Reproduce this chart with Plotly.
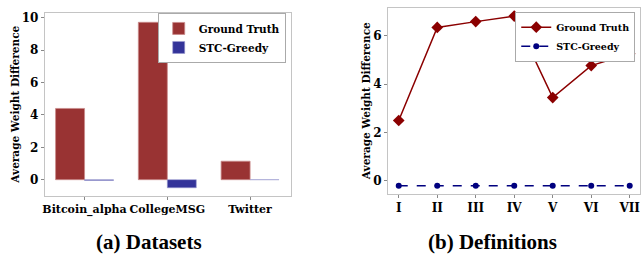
import plotly.graph_objects as go

datasets = ["Bitcoin_alpha", "CollegeMSG", "Twitter"]
gt_datasets = [4.4, 9.72, 1.14]
stc_datasets = [-0.05, -0.5, 0.0]

definitions = ["I", "II", "III", "IV", "V", "VI", "VII"]
gt_defs = [2.5, 6.35, 6.59, 6.82, 3.45, 4.77, 5.26]
stc_defs = [-0.2, -0.2, -0.2, -0.2, -0.2, -0.2, -0.2]

FONT = "DejaVu Serif"
GRID = "#c4c4c4"

fig = go.Figure()
fig.add_trace(go.Bar(x=datasets, y=gt_datasets, name="Ground Truth",
                     marker=dict(color="#993333", line=dict(color="#c98a8a", width=0.8)),
                     xaxis="x", yaxis="y", legend="legend"))
fig.add_trace(go.Bar(x=datasets, y=stc_datasets, name="STC-Greedy",
                     marker=dict(color="#333399", line=dict(color="#9a9ad0", width=0.6)),
                     xaxis="x", yaxis="y", legend="legend"))
fig.add_trace(go.Scatter(x=definitions, y=gt_defs, name="Ground Truth", mode="lines+markers",
                         line=dict(color="#8b0000", width=1.5),
                         marker=dict(symbol="diamond", size=9, color="#8b0000"),
                         xaxis="x2", yaxis="y2", legend="legend2"))
fig.add_trace(go.Scatter(x=definitions, y=stc_defs, name="STC-Greedy", mode="lines+markers",
                         line=dict(color="#00007f", width=1.5, dash="dash"),
                         marker=dict(symbol="circle", size=6, color="#00007f"),
                         xaxis="x2", yaxis="y2", legend="legend2"))

axis_common = dict(showline=True, linecolor=GRID, linewidth=1, mirror=True,
                   showgrid=False, zeroline=False, ticks="outside", ticklen=3,
                   tickcolor="#888888")

fig.update_layout(
    width=642, height=256,
    margin=dict(l=0, r=0, t=0, b=0),
    paper_bgcolor="white", plot_bgcolor="white",
    barmode="group", bargap=0.3, bargroupgap=0,
    font=dict(family=FONT, color="black"),
    xaxis=dict(domain=[0.067, 0.453], anchor="y", range=[-0.48, 2.5],
               tickfont=dict(family=FONT, size=11, weight="bold"), **axis_common),
    yaxis=dict(domain=[0.238, 0.957], anchor="x", range=[-0.98, 10.3],
               tickvals=[0, 2, 4, 6, 8, 10],
               tickfont=dict(family=FONT, size=12, weight="bold"),
               title=dict(text="Average Weight Difference", standoff=0,
                          font=dict(family=FONT, size=10.5, weight="bold")),
               **axis_common),
    xaxis2=dict(domain=[0.604, 0.998], anchor="y2", range=[-0.28, 6.26],
                tickfont=dict(family=FONT, size=12, weight="bold"), **axis_common),
    yaxis2=dict(domain=[0.246, 0.977], anchor="x2", range=[-0.52, 7.16],
                tickvals=[0, 2, 4, 6],
                tickfont=dict(family=FONT, size=12, weight="bold"),
                title=dict(text="Average Weight Difference", standoff=0,
                           font=dict(family=FONT, size=10.5, weight="bold")),
                **axis_common),
    legend=dict(x=0.444, y=0.957, xanchor="right", yanchor="top",
                bgcolor="white", bordercolor="#aaaaaa", borderwidth=1,
                font=dict(family=FONT, size=10.5, weight="bold"),
                tracegroupgap=0, itemwidth=30),
    legend2=dict(x=0.991, y=0.962, xanchor="right", yanchor="top",
                 bgcolor="white", bordercolor="#aaaaaa", borderwidth=1,
                 font=dict(family=FONT, size=9.5, weight="bold"),
                 tracegroupgap=0, itemwidth=30),
    annotations=[
        dict(text="(a) Datasets", x=148 / 642, y=1 - 242 / 256, xref="paper", yref="paper",
             showarrow=False, xanchor="center", yanchor="middle",
             font=dict(family="Liberation Serif", size=21, weight="bold")),
        dict(text="(b) Definitions", x=493 / 642, y=1 - 242 / 256, xref="paper", yref="paper",
             showarrow=False, xanchor="center", yanchor="middle",
             font=dict(family="Liberation Serif", size=21, weight="bold")),
    ],
)

fig.write_html("out.html", config={"displayModeBar": False},
               post_script="document.body.style.margin='0';document.body.style.overflow='hidden';")
